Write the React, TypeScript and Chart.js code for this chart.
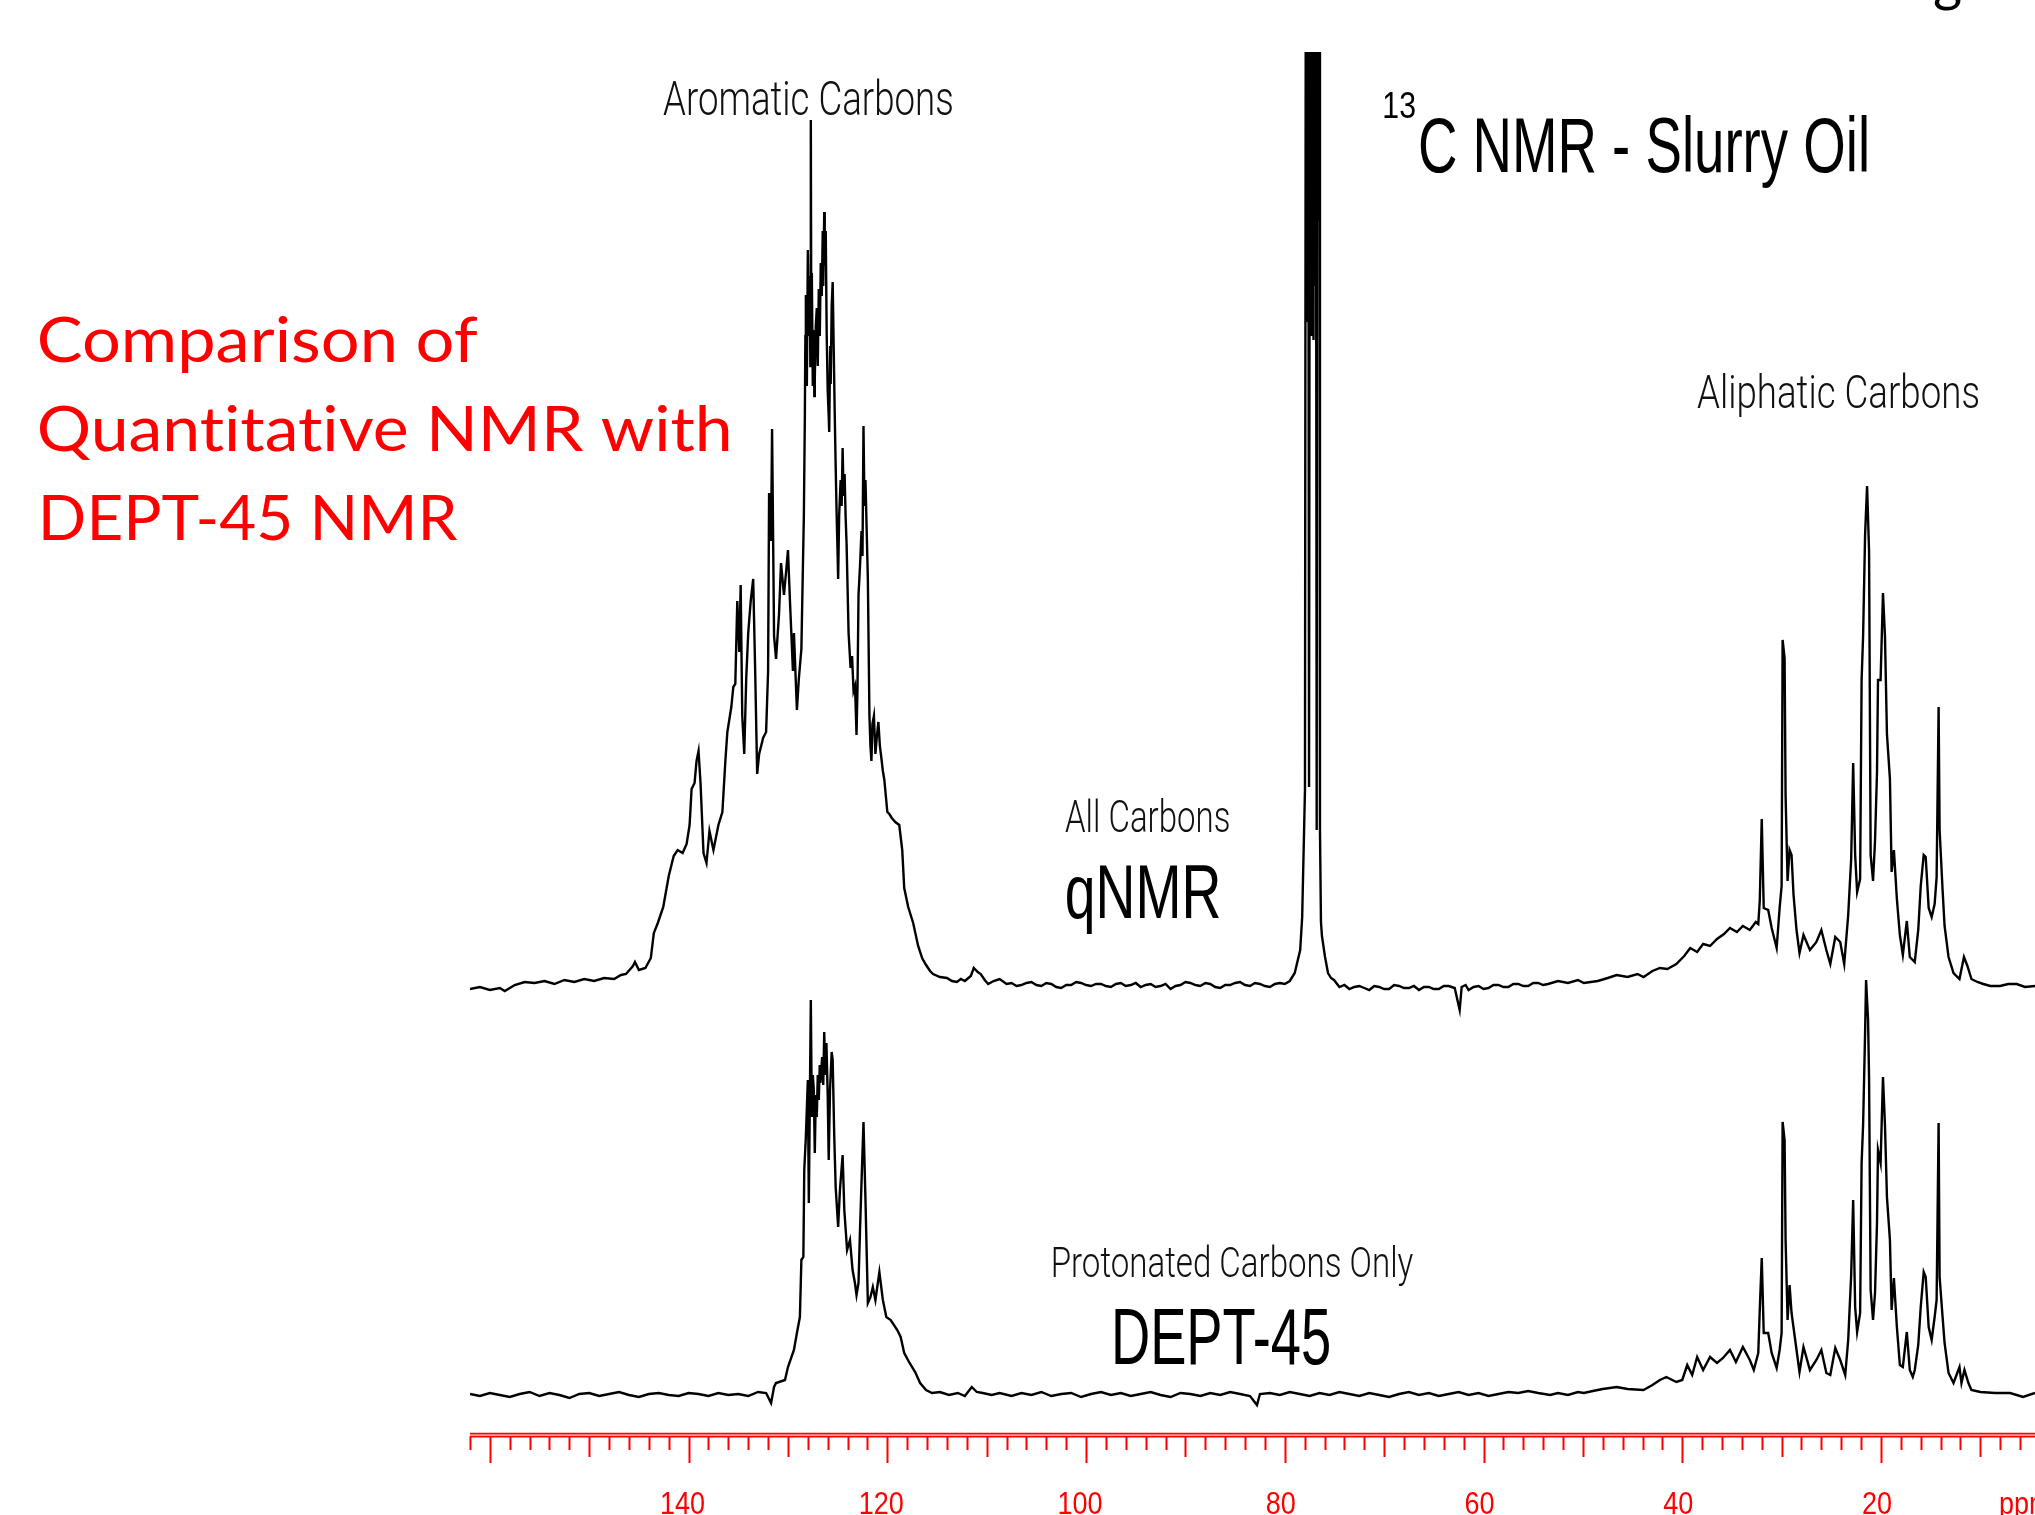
import React, { useEffect, useRef } from "react";
import { Chart, registerables } from "chart.js";

Chart.register(...registerables);

const W = 2035;
const H = 1515;

// ---------- axis (ppm) ----------
const ppmMin = 4.5;
const ppmMax = 162;
const minorStep = 2;
const tickLabelValues = [140, 120, 100, 80, 60, 40, 20];
const axisUnit = "ppm";

// ---------- texts ----------
const sideTitle = ["Comparison of", "Quantitative NMR with", "DEPT-45 NMR"];
const titleSup = "13";
const titleMain = "C NMR - Slurry Oil";
const regionLabels = ["Aromatic Carbons", "Aliphatic Carbons"];
const qnmrLabels = ["All Carbons", "qNMR"];
const deptLabels = ["Protonated Carbons Only", "DEPT-45"];
const cutOffSlideText = "g";

// ---------- stacking (intensity units) ----------
const qnmrOffset = 409;
const intensityMin = -40;
const intensityMax = 1343;

// ---------- qNMR spectrum: [ppm, intensity] ----------
const qnmrAromatic: [number, number][] = [
  [162.0, -3], [161.0, -1], [160.0, -4], [159.0, -2], [158.5, -5], [157.5, 1], [156.5, 4], [155.5, 3],
  [154.5, 5], [153.5, 2], [152.5, 6], [151.5, 4], [150.5, 7], [149.5, 5], [148.5, 8], [147.5, 7],
  [146.8, 11], [146.3, 12], [145.6, 20], [145.4, 24], [145.0, 16], [144.35, 18], [143.8, 28], [143.5, 53],
  [143.1, 63], [142.55, 79], [142.0, 110], [141.5, 130], [141.1, 136], [140.6, 133], [140.2, 142], [139.9, 161],
  [139.7, 197], [139.4, 203], [139.2, 225], [139.0, 235], [138.8, 203], [138.5, 133], [138.2, 123], [137.9, 155],
  [137.5, 136], [137.0, 161], [136.6, 174], [136.3, 225], [136.1, 254], [135.7, 279], [135.5, 299], [135.3, 302],
  [135.1, 385], [134.9, 334], [134.76, 401], [134.6, 270], [134.4, 232], [134.2, 308], [134.0, 353], [133.75, 385],
  [133.5, 407], [133.3, 315], [133.1, 212], [132.9, 232], [132.5, 248], [132.2, 254], [132.0, 315], [131.9, 493],
  [131.7, 445], [131.6, 557], [131.4, 350], [131.2, 327], [130.9, 372], [130.7, 423], [130.4, 391], [130.2, 413],
  [130.0, 436], [129.8, 385], [129.5, 315], [129.4, 353], [129.1, 276], [128.9, 308], [128.65, 337], [128.4, 471],
  [128.3, 570], [128.25, 650], [128.2, 691], [128.1, 600], [128.0, 736], [127.9, 650], [127.8, 710], [127.75, 620],
  [127.7, 866], [127.65, 640], [127.6, 713], [127.5, 600], [127.4, 656], [127.35, 590], [127.3, 608], [127.2, 660],
  [127.1, 678], [127.0, 620], [126.9, 697], [126.8, 650], [126.7, 723], [126.6, 690], [126.5, 755], [126.45, 700],
  [126.35, 774], [126.3, 720], [126.2, 755], [126.1, 650], [126.0, 595], [125.9, 570], [125.85, 554], [125.75, 640],
  [125.7, 602], [125.6, 680], [125.5, 704], [125.4, 640], [125.3, 576], [125.2, 520], [125.1, 471], [125.0, 430],
  [124.95, 407], [124.85, 470], [124.7, 506], [124.6, 480], [124.5, 538], [124.4, 490], [124.3, 512], [124.2, 470],
  [124.1, 442], [123.9, 353], [123.7, 318], [123.55, 330], [123.4, 295], [123.25, 300], [123.1, 251], [123.0, 300],
  [122.9, 391], [122.75, 420], [122.6, 455], [122.5, 430], [122.4, 560], [122.3, 480], [122.2, 506], [121.96, 407],
  [121.8, 270], [121.7, 240], [121.6, 225], [121.5, 262], [121.35, 270], [121.2, 232], [121.05, 250], [120.9, 264],
  [120.75, 240], [120.6, 228], [120.45, 215], [120.3, 206], [120.15, 190], [120.0, 174], [119.8, 172], [119.55, 168],
  [119.2, 164], [118.8, 161], [118.5, 136], [118.3, 98], [117.9, 79], [117.4, 63], [116.9, 40], [116.5, 28],
  [116.1, 21], [115.7, 15], [115.4, 12], [114.7, 9], [114.0, 8], [113.5, 5], [113.0, 4], [112.6, 7],
  [112.2, 5], [111.6, 10], [111.3, 18], [110.9, 14], [110.6, 12], [110.2, 6], [109.85, 2], [109.3, 5],
  [108.7, 7],
];

const qnmrMiddle: [number, number][] = [
  [108.0, 2], [107.5, 3], [107.0, 0], [106.5, 1], [106.0, 3], [105.5, 4], [105.0, 1], [104.5, 0],
  [104.0, 3], [103.5, 2], [103.0, -1], [102.5, -2], [102.0, 1], [101.5, 1], [101.0, 4], [100.5, 3],
  [100.0, 1], [99.5, 0], [99.0, 2], [98.5, 2], [98.0, 0], [97.5, -1], [97.0, 2], [96.5, 3],
  [96.0, 0], [95.5, 1], [95.0, 3], [94.5, -1], [94.0, 1], [93.5, 2], [93.0, -1], [92.5, 0],
  [92.0, 2], [91.5, -3], [91.0, 0], [90.5, 1], [90.0, 4], [89.5, 3], [89.0, 1], [88.5, 0],
  [88.0, 3], [87.5, 2], [87.0, -1], [86.5, -2], [86.0, 1], [85.5, 1], [85.0, 3], [84.5, 4],
  [84.0, 1], [83.5, 0], [83.0, 3], [82.5, 2], [82.0, 0], [81.5, -1], [81.0, 2], [80.5, 3],
  [80.0, 2], [79.5, 5], [79.0, 13], [78.45, 36], [78.25, 69], [77.97, 196], [77.87, 1200], [77.81, 664],
  [77.76, 1200], [77.71, 664], [77.66, 1200], [77.56, 199], [77.46, 1200], [77.41, 664], [77.36, 1200], [77.31, 650],
  [77.26, 1200], [77.21, 664], [77.16, 1200], [77.11, 646], [77.06, 1200], [77.01, 700], [76.96, 1200], [76.91, 765],
  [76.86, 1200], [76.79, 156], [76.74, 1200], [76.69, 765], [76.64, 1200], [76.59, 765], [76.54, 1200], [76.46, 156],
  [76.36, 64], [76.26, 50], [75.95, 29], [75.65, 13], [75.35, 8], [75.05, 6], [74.5, -1], [74.0, 1],
  [73.5, -3], [73.0, -1], [72.5, 0], [72.0, -2], [71.5, -4], [71.0, 0], [70.5, -1], [70.0, -3],
  [69.5, -3], [69.0, 1], [68.5, 0], [68.0, -2], [67.5, -2], [67.0, 0], [66.5, -4], [66.0, -1],
  [65.5, -1], [65.0, -3], [64.5, -3], [64.0, 0], [63.5, 0], [62.9, -2], [62.4, -24], [62.2, -1],
  [61.8, 1], [61.5, -4], [61.0, -1], [60.5, 0], [60.0, -3], [59.5, -2], [59.0, 1], [58.5, 1],
  [58.0, -1], [57.5, -1], [57.0, 2], [56.5, 2], [56.0, 0], [55.5, 0], [55.0, 3], [54.5, 3],
  [54.0, 1], [53.5, 2],
];

const qnmrAliphatic: [number, number][] = [
  [52.5, 5], [51.5, 3], [50.5, 6], [49.9, 3], [48.5, 5], [47.5, 8], [46.6, 11], [45.5, 9],
  [44.5, 12], [43.9, 9], [43.0, 15], [42.25, 18], [41.5, 17], [40.6, 22], [39.8, 30], [39.2, 38],
  [38.5, 34], [37.9, 42], [37.2, 40], [36.5, 47], [35.8, 52], [35.2, 58], [34.5, 54], [33.9, 60],
  [33.2, 56], [32.6, 64], [32.35, 62], [32.2, 85], [32.0, 167], [31.8, 78], [31.35, 76], [31.0, 58],
  [30.5, 38], [30.2, 78], [30.0, 100], [29.9, 346], [29.7, 328], [29.6, 190], [29.4, 105], [29.2, 136],
  [29.0, 131], [28.8, 91], [28.5, 56], [28.2, 33], [27.8, 51], [27.15, 36], [26.5, 44], [26.0, 56],
  [25.5, 36], [25.1, 22], [24.6, 49], [24.1, 44], [23.7, 22], [23.3, 71], [23.0, 127], [22.8, 223],
  [22.6, 131], [22.4, 94], [22.1, 107], [21.95, 306], [21.8, 350], [21.6, 451], [21.4, 500], [21.2, 435],
  [21.04, 131], [20.8, 105], [20.6, 145], [20.4, 214], [20.3, 306], [20.04, 306], [19.8, 393], [19.6, 350],
  [19.4, 252], [19.1, 207], [18.93, 114], [18.7, 136], [18.4, 87], [18.1, 51], [17.8, 31], [17.4, 65],
  [17.1, 29], [16.6, 24], [16.25, 56], [16.0, 100], [15.7, 131], [15.5, 129], [15.2, 78], [14.9, 69],
  [14.6, 82], [14.4, 109], [14.2, 279], [14.1, 156], [13.8, 96], [13.6, 60], [13.2, 29], [12.7, 13],
  [12.1, 7], [11.65, 29], [11.3, 20], [10.9, 7], [10.3, 4], [9.7, 2], [9.0, 0], [8.0, 0],
  [7.2, 2], [6.35, 2], [5.5, -1], [4.5, 0],
];

// ---------- DEPT-45 spectrum: [ppm, intensity] ----------
const deptAromatic: [number, number][] = [
  [162.0, 1], [161.0, -1], [160.0, 2], [159.0, 0], [158.0, -2], [157.0, 1], [156.0, 3], [155.0, -1],
  [154.0, 2], [153.0, 0], [152.0, -3], [151.0, 1], [150.0, 2], [149.0, -1], [148.0, 1], [147.0, 3],
  [146.0, 0], [145.0, -2], [144.0, 1], [143.0, 2], [142.0, 0], [141.0, -1], [140.0, 2], [139.0, 1],
  [138.0, -1], [137.0, 2], [136.0, 0], [135.0, 1], [134.0, -1], [133.0, 3], [132.2, 2], [131.7, -8],
  [131.4, 8], [131.2, 12], [130.3, 15], [130.0, 28], [129.4, 45], [129.1, 62], [128.8, 78], [128.65, 135],
  [128.45, 138], [128.36, 225], [128.2, 258], [128.0, 315], [127.9, 192], [127.7, 395], [127.6, 278], [127.5, 320],
  [127.4, 305], [127.3, 242], [127.2, 300], [127.1, 278], [127.0, 320], [126.9, 295], [126.8, 330], [126.74, 312],
  [126.56, 338], [126.45, 310], [126.35, 363], [126.25, 320], [126.13, 352], [126.0, 300], [125.9, 235], [125.77, 305],
  [125.6, 343], [125.5, 335], [125.34, 258], [125.2, 208], [124.95, 168], [124.77, 205], [124.5, 240], [124.33, 185],
  [124.05, 145], [123.76, 155], [123.5, 125], [123.26, 112], [123.1, 100], [122.9, 112], [122.75, 165], [122.6, 212],
  [122.4, 273], [122.2, 195], [121.96, 92], [121.7, 98], [121.46, 108], [121.2, 95], [120.8, 123], [120.45, 95],
  [120.1, 78], [119.66, 75], [119.0, 65], [118.66, 58], [118.3, 42], [117.76, 32], [117.2, 23], [116.7, 12],
  [116.1, 5], [115.5, 2], [114.7, 3], [113.8, 0], [112.9, 2], [112.2, -1], [111.5, 8], [111.0, 3],
  [110.4, 2], [109.5, 0], [108.7, 2],
];

const deptMiddle: [number, number][] = [
  [107.5, -1], [106.5, 2], [105.5, 0], [104.5, 3], [103.5, -1], [102.5, 1], [101.5, 2], [100.5, -2],
  [99.5, 1], [98.5, 3], [97.5, 0], [96.5, 2], [95.5, -1], [94.5, 1], [93.5, 3], [92.5, 0],
  [91.5, -2], [90.5, 2], [89.5, 1], [88.5, -1], [87.5, 2], [86.5, 0], [85.5, 3], [84.5, 1],
  [83.5, -1], [82.8, -10], [82.5, 1], [81.5, 2], [80.5, 0], [79.5, 3], [78.5, 1], [77.5, -1],
  [76.5, 2], [75.5, 0], [74.5, 3], [73.5, 1], [72.5, -1], [71.5, 2], [70.5, 0], [69.5, -2],
  [68.5, 1], [67.5, 3], [66.5, 0], [65.5, 2], [64.5, -1], [63.5, 1], [62.5, 3], [61.5, 0],
  [60.5, 2], [59.5, -1], [58.5, 1], [57.5, 3], [56.5, 2], [55.5, 4], [54.5, 2], [53.3, 0],
];

const deptAliphatic: [number, number][] = [
  [52.5, 2], [51.5, 0], [50.5, 3], [49.9, 2], [49.0, 4], [48.0, 6], [46.6, 8], [45.5, 6],
  [43.9, 5], [43.0, 10], [42.25, 15], [41.6, 18], [40.6, 13], [40.0, 15], [39.5, 30], [39.0, 20],
  [38.5, 38], [37.9, 25], [37.2, 38], [36.5, 32], [35.9, 37], [35.2, 45], [34.6, 33], [33.9, 48],
  [33.2, 35], [32.8, 25], [32.35, 42], [32.2, 85], [32.0, 137], [31.8, 62], [31.35, 62], [31.0, 42],
  [30.5, 27], [30.2, 45], [30.0, 62], [29.9, 273], [29.7, 255], [29.6, 155], [29.4, 75], [29.2, 110],
  [29.0, 82], [28.5, 45], [28.2, 23], [27.8, 48], [27.15, 25], [26.5, 35], [26.0, 45], [25.5, 22],
  [25.1, 20], [24.6, 47], [24.1, 35], [23.6, 20], [23.3, 55], [23.0, 120], [22.8, 195], [22.6, 88],
  [22.4, 63], [22.1, 82], [21.95, 232], [21.8, 270], [21.6, 362], [21.5, 415], [21.3, 375], [21.2, 318],
  [21.04, 105], [20.8, 75], [20.6, 102], [20.4, 172], [20.3, 245], [20.04, 232], [19.8, 318], [19.6, 270],
  [19.4, 198], [19.1, 155], [18.93, 85], [18.7, 117], [18.4, 68], [18.1, 30], [17.8, 28], [17.4, 63],
  [17.1, 25], [16.8, 18], [16.6, 25], [16.25, 50], [16.0, 88], [15.7, 123], [15.5, 118], [15.2, 68],
  [14.9, 55], [14.6, 78], [14.4, 95], [14.2, 272], [14.1, 118], [13.8, 78], [13.6, 52], [13.2, 22],
  [12.7, 12], [12.1, 28], [11.9, 12], [11.6, 25], [11.2, 12], [10.9, 5], [10.0, 3], [8.5, 2],
  [7.0, 2], [5.7, -2], [4.5, 2],
];

const NARROW = '"Liberation Sans Narrow", "Liberation Sans", Arial, sans-serif';
const LIGHT = 'Roboto, "Liberation Sans", sans-serif';
const CALIBRI_LIKE = 'Lato, "Open Sans", sans-serif';

// keep glyphs separate (no "ti" ligature, as in the original slide)
const noLigatures = (s: string) => s.replace(/t(?=[i])/g, "t\u200C");

function drawFit(
  ctx: CanvasRenderingContext2D,
  rawText: string,
  inkL: number,
  inkR: number,
  baseline: number,
  cap: number,
  family: string,
  weight: string,
  color: string
) {
  const text = noLigatures(rawText);
  ctx.font = `${weight} 100px ${family}`;
  const capAsc = ctx.measureText("H").actualBoundingBoxAscent || 72;
  const size = (100 * cap) / capAsc;
  ctx.font = `${weight} ${size}px ${family}`;
  const m = ctx.measureText(text);
  const inkW = m.actualBoundingBoxLeft + m.actualBoundingBoxRight;
  const sx = (inkR - inkL) / inkW;
  ctx.save();
  ctx.translate(inkL + m.actualBoundingBoxLeft * sx, baseline);
  ctx.scale(sx, 1);
  ctx.fillStyle = color;
  ctx.textAlign = "left";
  ctx.textBaseline = "alphabetic";
  ctx.fillText(text, 0, 0);
  ctx.restore();
}

const overlayPlugin = {
  id: "nmrOverlay",
  afterDraw(chart: any) {
    const ctx: CanvasRenderingContext2D = chart.ctx;
    const xs = chart.scales.x;
    const area = chart.chartArea;
    const y0 = area.bottom;
    ctx.save();

    // red ppm axis
    ctx.fillStyle = "#ff9c9c";
    ctx.fillRect(xs.left, y0 - 2, xs.right - xs.left, 4);
    ctx.strokeStyle = "#ff0000";
    ctx.lineWidth = 1.6;
    ctx.beginPath();
    ctx.moveTo(xs.left, y0 - 1.5);
    ctx.lineTo(xs.right, y0 - 1.5);
    ctx.moveTo(xs.left, y0 + 1.8);
    ctx.lineTo(xs.right, y0 + 1.8);
    ctx.stroke();

    ctx.lineWidth = 2;
    ctx.beginPath();
    for (let v = ppmMax; v >= ppmMin; v -= minorStep) {
      const px = Math.round(xs.getPixelForValue(v)) + 0.5;
      const len = v % 20 === 0 ? 28 : v % 10 === 0 ? 22 : 15;
      ctx.moveTo(px, y0 + 1);
      ctx.lineTo(px, y0 + len);
    }
    ctx.stroke();

    // tick labels
    ctx.font = `100px ${NARROW}`;
    const capAsc = ctx.measureText("0").actualBoundingBoxAscent || 72;
    const fs = (100 * 22) / capAsc;
    ctx.font = `${fs}px ${NARROW}`;
    ctx.fillStyle = "#ff0000";
    ctx.textBaseline = "alphabetic";
    for (const v of tickLabelValues) {
      const px = xs.getPixelForValue(v);
      const label = String(v);
      const off = label.length === 3 ? -6 : -4;
      ctx.save();
      ctx.translate(px + off, 1514);
      ctx.scale(0.86, 1);
      ctx.textAlign = "center";
      ctx.fillText(label, 0, 0);
      ctx.restore();
    }
    ctx.save();
    ctx.translate(1999, 1514);
    ctx.scale(0.86, 1);
    ctx.textAlign = "left";
    ctx.fillText(axisUnit, 0, 0);
    ctx.restore();

    // spectrum titles and labels
    drawFit(ctx, regionLabels[0], 663, 952, 115, 34, LIGHT, "300", "#111");
    drawFit(ctx, regionLabels[1], 1697, 1978, 408, 33, LIGHT, "300", "#111");
    drawFit(ctx, titleSup, 1384, 1415, 118, 25, NARROW, "400", "#000");
    drawFit(ctx, titleMain, 1420, 1867, 172, 54, NARROW, "400", "#000");
    drawFit(ctx, qnmrLabels[0], 1065, 1229, 832, 32, LIGHT, "300", "#111");
    drawFit(ctx, qnmrLabels[1], 1067, 1219, 918, 53, NARROW, "400", "#000");
    drawFit(ctx, deptLabels[0], 1053, 1413, 1277, 30.5, LIGHT, "300", "#111");
    drawFit(ctx, deptLabels[1], 1115, 1329, 1364, 55, NARROW, "400", "#000");

    // red side title
    drawFit(ctx, sideTitle[0], 39, 477, 362, 45, CALIBRI_LIKE, "400", "#ff0000");
    drawFit(ctx, sideTitle[1], 39, 729, 451, 45, CALIBRI_LIKE, "400", "#ff0000");
    drawFit(ctx, sideTitle[2], 43, 458, 540, 45, CALIBRI_LIKE, "400", "#ff0000");

    // fragment of slide text cut off at the top edge
    ctx.font = `56px ${CALIBRI_LIKE}`;
    ctx.fillStyle = "#000";
    ctx.textAlign = "left";
    ctx.fillText(cutOffSlideText, 1933, 0);

    ctx.restore();
  },
};

export default function App() {
  const ref = useRef<HTMLCanvasElement>(null);

  useEffect(() => {
    const canvas = ref.current;
    if (!canvas) return;
    const toPoints = (parts: [number, number][][], offset: number) =>
      parts.flat().map(([ppm, inten]) => ({ x: ppm, y: inten + offset }));

    const chart = new Chart(canvas, {
      type: "line",
      data: {
        datasets: [
          {
            label: "qNMR",
            data: toPoints([qnmrAromatic, qnmrMiddle, qnmrAliphatic], qnmrOffset),
            borderColor: "#000",
            borderWidth: 2.4,
            pointRadius: 0,
            tension: 0,
            fill: false,
            clip: 0,
          },
          {
            label: "DEPT-45",
            data: toPoints([deptAromatic, deptMiddle, deptAliphatic], 0),
            borderColor: "#000",
            borderWidth: 2.4,
            pointRadius: 0,
            tension: 0,
            fill: false,
            clip: 0,
          },
        ],
      },
      options: {
        responsive: false,
        animation: false,
        devicePixelRatio: 1,
        events: [],
        layout: { padding: { left: 470, right: 0, top: 52, bottom: 80 } },
        scales: {
          x: { type: "linear", reverse: true, min: ppmMin, max: ppmMax, display: false },
          y: { type: "linear", min: intensityMin, max: intensityMax, display: false },
        },
        plugins: {
          legend: { display: false },
          tooltip: { enabled: false },
        },
      } as any,
      plugins: [overlayPlugin],
    });

    return () => chart.destroy();
  }, []);

  return (
    <div style={{ position: "fixed", left: 0, top: 0, width: W, height: H, background: "#fff" }}>
      <canvas ref={ref} width={W} height={H} style={{ width: W, height: H, display: "block" }} />
    </div>
  );
}
